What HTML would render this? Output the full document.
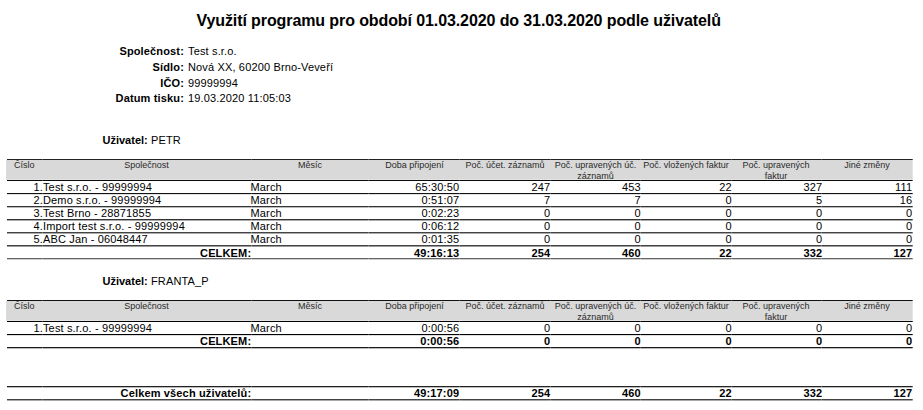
<!DOCTYPE html>
<html><head><meta charset="utf-8"><style>
html,body{margin:0;padding:0;background:#fff;}
body{width:923px;height:410px;overflow:hidden;position:relative;font-family:"Liberation Sans", sans-serif;font-size:11px;color:#000;}
.t{position:absolute;white-space:nowrap;line-height:12px;letter-spacing:0.15px;}
.l{position:absolute;}
.e{position:absolute;left:912px;width:1px;background:rgba(255,255,255,0.3);}
.s{position:absolute;width:1px;background:rgba(255,255,255,0.25);}
</style></head><body>
<div class="t" style="top:15px;font-size:16px;font-weight:bold;letter-spacing:-0.1px;left:196.5px;">Využití programu pro období 01.03.2020 do 31.03.2020 podle uživatelů</div>
<div class="t" style="top:45px;font-weight:bold;right:739px;text-align:right;">Společnost:</div>
<div class="t" style="top:45px;left:188px;">Test s.r.o.</div>
<div class="t" style="top:61px;font-weight:bold;right:739px;text-align:right;">Sídlo:</div>
<div class="t" style="top:61px;left:188px;">Nová XX, 60200 Brno-Veveří</div>
<div class="t" style="top:77px;font-weight:bold;right:739px;text-align:right;">IČO:</div>
<div class="t" style="top:77px;left:188px;">99999994</div>
<div class="t" style="top:92px;font-weight:bold;right:739px;text-align:right;">Datum tisku:</div>
<div class="t" style="top:92px;left:188px;">19.03.2020 11:05:03</div>
<div class="t" style="top:134px;left:102.5px;"><b style="letter-spacing:0">Uživatel:</b> PETR</div>
<div class="l" style="top:160px;left:6px;width:907px;height:19px;background:#d9d9d9"></div>
<div class="l" style="top:179px;left:6px;width:907px;height:1px;background:#e4e4e4"></div>
<div class="e" style="top:160px;height:20px"></div>
<div class="l" style="top:159px;left:7px;width:906px;height:1px;background:#222"></div>
<div class="s" style="top:159px;left:42px;height:1px"></div>
<div class="s" style="top:159px;left:251px;height:1px"></div>
<div class="s" style="top:159px;left:368px;height:1px"></div>
<div class="s" style="top:159px;left:459px;height:1px"></div>
<div class="s" style="top:159px;left:550px;height:1px"></div>
<div class="s" style="top:159px;left:640px;height:1px"></div>
<div class="s" style="top:159px;left:731px;height:1px"></div>
<div class="s" style="top:159px;left:821px;height:1px"></div>
<div class="e" style="top:159px;height:1px"></div>
<div class="l" style="top:180px;left:7px;width:906px;height:1px;background:#0a0a0a"></div>
<div class="s" style="top:180px;left:42px;height:1px"></div>
<div class="s" style="top:180px;left:251px;height:1px"></div>
<div class="s" style="top:180px;left:368px;height:1px"></div>
<div class="s" style="top:180px;left:459px;height:1px"></div>
<div class="s" style="top:180px;left:550px;height:1px"></div>
<div class="s" style="top:180px;left:640px;height:1px"></div>
<div class="s" style="top:180px;left:731px;height:1px"></div>
<div class="s" style="top:180px;left:821px;height:1px"></div>
<div class="e" style="top:180px;height:1px"></div>
<div class="t" style="top:160px;font-size:9px;letter-spacing:0px;left:14px;line-height:10.5px;color:#2a2a2a;">Číslo</div>
<div class="t" style="top:160px;font-size:9px;letter-spacing:0px;left:42px;width:209px;text-align:center;line-height:10.5px;color:#2a2a2a;">Společnost</div>
<div class="t" style="top:160px;font-size:9px;letter-spacing:0px;left:251px;width:118px;text-align:center;line-height:10.5px;color:#2a2a2a;">Měsíc</div>
<div class="t" style="top:160px;font-size:9px;letter-spacing:0px;left:369px;width:91px;text-align:center;line-height:10.5px;color:#2a2a2a;">Doba připojení</div>
<div class="t" style="top:160px;font-size:9px;letter-spacing:0px;left:460px;width:90px;text-align:center;line-height:10.5px;color:#2a2a2a;">Poč. účet. záznamů</div>
<div class="t" style="top:160px;font-size:9px;letter-spacing:0px;left:550px;width:91px;text-align:center;line-height:10.5px;color:#2a2a2a;">Poč. upravených úč.<br>záznamů</div>
<div class="t" style="top:160px;font-size:9px;letter-spacing:0px;left:641px;width:90px;text-align:center;line-height:10.5px;color:#2a2a2a;">Poč. vložených faktur</div>
<div class="t" style="top:160px;font-size:9px;letter-spacing:0px;left:731px;width:90px;text-align:center;line-height:10.5px;color:#2a2a2a;">Poč. upravených<br>faktur</div>
<div class="t" style="top:160px;font-size:9px;letter-spacing:0px;left:821px;width:92px;text-align:center;line-height:10.5px;color:#2a2a2a;">Jiné změny</div>
<div class="t" style="top:181px;left:33.5px;">1.Test s.r.o. - 99999994</div>
<div class="t" style="top:181px;left:250.5px;">March</div>
<div class="t" style="top:181px;right:463.8px;text-align:right;">65:30:50</div>
<div class="t" style="top:181px;right:372.8px;text-align:right;">247</div>
<div class="t" style="top:181px;right:282.3px;text-align:right;">453</div>
<div class="t" style="top:181px;right:191.3px;text-align:right;">22</div>
<div class="t" style="top:181px;right:100.8px;text-align:right;">327</div>
<div class="t" style="top:181px;right:10.8px;text-align:right;">111</div>
<div class="l" style="top:193px;left:7px;width:906px;height:1px;background:#111"></div>
<div class="l" style="top:194px;left:7px;width:906px;height:1px;background:#e0e0e0"></div>
<div class="s" style="top:193px;left:42px;height:2px"></div>
<div class="s" style="top:193px;left:251px;height:2px"></div>
<div class="s" style="top:193px;left:368px;height:2px"></div>
<div class="s" style="top:193px;left:459px;height:2px"></div>
<div class="s" style="top:193px;left:550px;height:2px"></div>
<div class="s" style="top:193px;left:640px;height:2px"></div>
<div class="s" style="top:193px;left:731px;height:2px"></div>
<div class="s" style="top:193px;left:821px;height:2px"></div>
<div class="e" style="top:193px;height:2px"></div>
<div class="t" style="top:194px;left:33.5px;">2.Demo s.r.o. - 99999994</div>
<div class="t" style="top:194px;left:250.5px;">March</div>
<div class="t" style="top:194px;right:463.8px;text-align:right;">0:51:07</div>
<div class="t" style="top:194px;right:372.8px;text-align:right;">7</div>
<div class="t" style="top:194px;right:282.3px;text-align:right;">7</div>
<div class="t" style="top:194px;right:191.3px;text-align:right;">0</div>
<div class="t" style="top:194px;right:100.8px;text-align:right;">5</div>
<div class="t" style="top:194px;right:10.8px;text-align:right;">16</div>
<div class="l" style="top:206px;left:7px;width:906px;height:1px;background:#333"></div>
<div class="l" style="top:207px;left:7px;width:906px;height:1px;background:#bbb"></div>
<div class="s" style="top:206px;left:42px;height:2px"></div>
<div class="s" style="top:206px;left:251px;height:2px"></div>
<div class="s" style="top:206px;left:368px;height:2px"></div>
<div class="s" style="top:206px;left:459px;height:2px"></div>
<div class="s" style="top:206px;left:550px;height:2px"></div>
<div class="s" style="top:206px;left:640px;height:2px"></div>
<div class="s" style="top:206px;left:731px;height:2px"></div>
<div class="s" style="top:206px;left:821px;height:2px"></div>
<div class="e" style="top:206px;height:2px"></div>
<div class="t" style="top:207px;left:33.5px;">3.Test Brno - 28871855</div>
<div class="t" style="top:207px;left:250.5px;">March</div>
<div class="t" style="top:207px;right:463.8px;text-align:right;">0:02:23</div>
<div class="t" style="top:207px;right:372.8px;text-align:right;">0</div>
<div class="t" style="top:207px;right:282.3px;text-align:right;">0</div>
<div class="t" style="top:207px;right:191.3px;text-align:right;">0</div>
<div class="t" style="top:207px;right:100.8px;text-align:right;">0</div>
<div class="t" style="top:207px;right:10.8px;text-align:right;">0</div>
<div class="l" style="top:219px;left:7px;width:906px;height:1px;background:#333"></div>
<div class="l" style="top:220px;left:7px;width:906px;height:1px;background:#aaa"></div>
<div class="s" style="top:219px;left:42px;height:2px"></div>
<div class="s" style="top:219px;left:251px;height:2px"></div>
<div class="s" style="top:219px;left:368px;height:2px"></div>
<div class="s" style="top:219px;left:459px;height:2px"></div>
<div class="s" style="top:219px;left:550px;height:2px"></div>
<div class="s" style="top:219px;left:640px;height:2px"></div>
<div class="s" style="top:219px;left:731px;height:2px"></div>
<div class="s" style="top:219px;left:821px;height:2px"></div>
<div class="e" style="top:219px;height:2px"></div>
<div class="t" style="top:220px;left:33.5px;">4.Import test s.r.o. - 99999994</div>
<div class="t" style="top:220px;left:250.5px;">March</div>
<div class="t" style="top:220px;right:463.8px;text-align:right;">0:06:12</div>
<div class="t" style="top:220px;right:372.8px;text-align:right;">0</div>
<div class="t" style="top:220px;right:282.3px;text-align:right;">0</div>
<div class="t" style="top:220px;right:191.3px;text-align:right;">0</div>
<div class="t" style="top:220px;right:100.8px;text-align:right;">0</div>
<div class="t" style="top:220px;right:10.8px;text-align:right;">0</div>
<div class="l" style="top:232px;left:7px;width:906px;height:1px;background:#444"></div>
<div class="l" style="top:233px;left:7px;width:906px;height:1px;background:#aaa"></div>
<div class="s" style="top:232px;left:42px;height:2px"></div>
<div class="s" style="top:232px;left:251px;height:2px"></div>
<div class="s" style="top:232px;left:368px;height:2px"></div>
<div class="s" style="top:232px;left:459px;height:2px"></div>
<div class="s" style="top:232px;left:550px;height:2px"></div>
<div class="s" style="top:232px;left:640px;height:2px"></div>
<div class="s" style="top:232px;left:731px;height:2px"></div>
<div class="s" style="top:232px;left:821px;height:2px"></div>
<div class="e" style="top:232px;height:2px"></div>
<div class="t" style="top:233px;left:33.5px;">5.ABC Jan - 06048447</div>
<div class="t" style="top:233px;left:250.5px;">March</div>
<div class="t" style="top:233px;right:463.8px;text-align:right;">0:01:35</div>
<div class="t" style="top:233px;right:372.8px;text-align:right;">0</div>
<div class="t" style="top:233px;right:282.3px;text-align:right;">0</div>
<div class="t" style="top:233px;right:191.3px;text-align:right;">0</div>
<div class="t" style="top:233px;right:100.8px;text-align:right;">0</div>
<div class="t" style="top:233px;right:10.8px;text-align:right;">0</div>
<div class="l" style="top:245px;left:7px;width:906px;height:1px;background:#444"></div>
<div class="l" style="top:246px;left:7px;width:906px;height:1px;background:#999"></div>
<div class="s" style="top:245px;left:42px;height:2px"></div>
<div class="s" style="top:245px;left:251px;height:2px"></div>
<div class="s" style="top:245px;left:368px;height:2px"></div>
<div class="s" style="top:245px;left:459px;height:2px"></div>
<div class="s" style="top:245px;left:550px;height:2px"></div>
<div class="s" style="top:245px;left:640px;height:2px"></div>
<div class="s" style="top:245px;left:731px;height:2px"></div>
<div class="s" style="top:245px;left:821px;height:2px"></div>
<div class="e" style="top:245px;height:2px"></div>
<div class="t" style="top:247px;font-weight:bold;right:671.8px;text-align:right;">CELKEM:</div>
<div class="t" style="top:247px;font-weight:bold;right:463.8px;text-align:right;">49:16:13</div>
<div class="t" style="top:247px;font-weight:bold;right:372.8px;text-align:right;">254</div>
<div class="t" style="top:247px;font-weight:bold;right:282.3px;text-align:right;">460</div>
<div class="t" style="top:247px;font-weight:bold;right:191.3px;text-align:right;">22</div>
<div class="t" style="top:247px;font-weight:bold;right:100.8px;text-align:right;">332</div>
<div class="t" style="top:247px;font-weight:bold;right:10.8px;text-align:right;">127</div>
<div class="l" style="top:258px;left:7px;width:906px;height:1px;background:#666"></div>
<div class="l" style="top:259px;left:7px;width:906px;height:1px;background:#ccc"></div>
<div class="s" style="top:258px;left:42px;height:2px"></div>
<div class="s" style="top:258px;left:251px;height:2px"></div>
<div class="s" style="top:258px;left:368px;height:2px"></div>
<div class="s" style="top:258px;left:459px;height:2px"></div>
<div class="s" style="top:258px;left:550px;height:2px"></div>
<div class="s" style="top:258px;left:640px;height:2px"></div>
<div class="s" style="top:258px;left:731px;height:2px"></div>
<div class="s" style="top:258px;left:821px;height:2px"></div>
<div class="e" style="top:258px;height:2px"></div>
<div class="t" style="top:275px;left:102.5px;"><b style="letter-spacing:0">Uživatel:</b> FRANTA_P</div>
<div class="l" style="top:301px;left:6px;width:907px;height:19px;background:#d9d9d9"></div>
<div class="l" style="top:320px;left:6px;width:907px;height:1px;background:#e4e4e4"></div>
<div class="e" style="top:301px;height:20px"></div>
<div class="l" style="top:300px;left:7px;width:906px;height:1px;background:#111"></div>
<div class="s" style="top:300px;left:42px;height:1px"></div>
<div class="s" style="top:300px;left:251px;height:1px"></div>
<div class="s" style="top:300px;left:368px;height:1px"></div>
<div class="s" style="top:300px;left:459px;height:1px"></div>
<div class="s" style="top:300px;left:550px;height:1px"></div>
<div class="s" style="top:300px;left:640px;height:1px"></div>
<div class="s" style="top:300px;left:731px;height:1px"></div>
<div class="s" style="top:300px;left:821px;height:1px"></div>
<div class="e" style="top:300px;height:1px"></div>
<div class="l" style="top:321px;left:7px;width:906px;height:1px;background:#000"></div>
<div class="s" style="top:321px;left:42px;height:1px"></div>
<div class="s" style="top:321px;left:251px;height:1px"></div>
<div class="s" style="top:321px;left:368px;height:1px"></div>
<div class="s" style="top:321px;left:459px;height:1px"></div>
<div class="s" style="top:321px;left:550px;height:1px"></div>
<div class="s" style="top:321px;left:640px;height:1px"></div>
<div class="s" style="top:321px;left:731px;height:1px"></div>
<div class="s" style="top:321px;left:821px;height:1px"></div>
<div class="e" style="top:321px;height:1px"></div>
<div class="t" style="top:301px;font-size:9px;letter-spacing:0px;left:14px;line-height:10.5px;color:#2a2a2a;">Číslo</div>
<div class="t" style="top:301px;font-size:9px;letter-spacing:0px;left:42px;width:209px;text-align:center;line-height:10.5px;color:#2a2a2a;">Společnost</div>
<div class="t" style="top:301px;font-size:9px;letter-spacing:0px;left:251px;width:118px;text-align:center;line-height:10.5px;color:#2a2a2a;">Měsíc</div>
<div class="t" style="top:301px;font-size:9px;letter-spacing:0px;left:369px;width:91px;text-align:center;line-height:10.5px;color:#2a2a2a;">Doba připojení</div>
<div class="t" style="top:301px;font-size:9px;letter-spacing:0px;left:460px;width:90px;text-align:center;line-height:10.5px;color:#2a2a2a;">Poč. účet. záznamů</div>
<div class="t" style="top:301px;font-size:9px;letter-spacing:0px;left:550px;width:91px;text-align:center;line-height:10.5px;color:#2a2a2a;">Poč. upravených úč.<br>záznamů</div>
<div class="t" style="top:301px;font-size:9px;letter-spacing:0px;left:641px;width:90px;text-align:center;line-height:10.5px;color:#2a2a2a;">Poč. vložených faktur</div>
<div class="t" style="top:301px;font-size:9px;letter-spacing:0px;left:731px;width:90px;text-align:center;line-height:10.5px;color:#2a2a2a;">Poč. upravených<br>faktur</div>
<div class="t" style="top:301px;font-size:9px;letter-spacing:0px;left:821px;width:92px;text-align:center;line-height:10.5px;color:#2a2a2a;">Jiné změny</div>
<div class="t" style="top:322px;left:33.5px;">1.Test s.r.o. - 99999994</div>
<div class="t" style="top:322px;left:250.5px;">March</div>
<div class="t" style="top:322px;right:463.8px;text-align:right;">0:00:56</div>
<div class="t" style="top:322px;right:372.8px;text-align:right;">0</div>
<div class="t" style="top:322px;right:282.3px;text-align:right;">0</div>
<div class="t" style="top:322px;right:191.3px;text-align:right;">0</div>
<div class="t" style="top:322px;right:100.8px;text-align:right;">0</div>
<div class="t" style="top:322px;right:10.8px;text-align:right;">0</div>
<div class="l" style="top:334px;left:7px;width:906px;height:1px;background:#000"></div>
<div class="l" style="top:335px;left:7px;width:906px;height:1px;background:#ddd"></div>
<div class="s" style="top:334px;left:42px;height:2px"></div>
<div class="s" style="top:334px;left:251px;height:2px"></div>
<div class="s" style="top:334px;left:368px;height:2px"></div>
<div class="s" style="top:334px;left:459px;height:2px"></div>
<div class="s" style="top:334px;left:550px;height:2px"></div>
<div class="s" style="top:334px;left:640px;height:2px"></div>
<div class="s" style="top:334px;left:731px;height:2px"></div>
<div class="s" style="top:334px;left:821px;height:2px"></div>
<div class="e" style="top:334px;height:2px"></div>
<div class="t" style="top:335px;font-weight:bold;right:671.8px;text-align:right;">CELKEM:</div>
<div class="t" style="top:335px;font-weight:bold;right:463.8px;text-align:right;">0:00:56</div>
<div class="t" style="top:335px;font-weight:bold;right:372.8px;text-align:right;">0</div>
<div class="t" style="top:335px;font-weight:bold;right:282.3px;text-align:right;">0</div>
<div class="t" style="top:335px;font-weight:bold;right:191.3px;text-align:right;">0</div>
<div class="t" style="top:335px;font-weight:bold;right:100.8px;text-align:right;">0</div>
<div class="t" style="top:335px;font-weight:bold;right:10.8px;text-align:right;">0</div>
<div class="l" style="top:347px;left:7px;width:906px;height:1px;background:#1a1a1a"></div>
<div class="l" style="top:348px;left:7px;width:906px;height:1px;background:#bbb"></div>
<div class="s" style="top:347px;left:42px;height:2px"></div>
<div class="s" style="top:347px;left:251px;height:2px"></div>
<div class="s" style="top:347px;left:368px;height:2px"></div>
<div class="s" style="top:347px;left:459px;height:2px"></div>
<div class="s" style="top:347px;left:550px;height:2px"></div>
<div class="s" style="top:347px;left:640px;height:2px"></div>
<div class="s" style="top:347px;left:731px;height:2px"></div>
<div class="s" style="top:347px;left:821px;height:2px"></div>
<div class="e" style="top:347px;height:2px"></div>
<div class="l" style="top:386px;left:7px;width:906px;height:1px;background:#222"></div>
<div class="l" style="top:387px;left:7px;width:906px;height:1px;background:#bbb"></div>
<div class="s" style="top:386px;left:42px;height:2px"></div>
<div class="s" style="top:386px;left:251px;height:2px"></div>
<div class="s" style="top:386px;left:368px;height:2px"></div>
<div class="s" style="top:386px;left:459px;height:2px"></div>
<div class="s" style="top:386px;left:550px;height:2px"></div>
<div class="s" style="top:386px;left:640px;height:2px"></div>
<div class="s" style="top:386px;left:731px;height:2px"></div>
<div class="s" style="top:386px;left:821px;height:2px"></div>
<div class="e" style="top:386px;height:2px"></div>
<div class="t" style="top:387px;font-weight:bold;right:671.8px;text-align:right;">Celkem všech uživatelů:</div>
<div class="t" style="top:387px;font-weight:bold;right:463.8px;text-align:right;">49:17:09</div>
<div class="t" style="top:387px;font-weight:bold;right:372.8px;text-align:right;">254</div>
<div class="t" style="top:387px;font-weight:bold;right:282.3px;text-align:right;">460</div>
<div class="t" style="top:387px;font-weight:bold;right:191.3px;text-align:right;">22</div>
<div class="t" style="top:387px;font-weight:bold;right:100.8px;text-align:right;">332</div>
<div class="t" style="top:387px;font-weight:bold;right:10.8px;text-align:right;">127</div>
<div class="l" style="top:399px;left:7px;width:906px;height:1px;background:#444"></div>
<div class="l" style="top:400px;left:7px;width:906px;height:1px;background:#aaa"></div>
<div class="s" style="top:399px;left:42px;height:2px"></div>
<div class="s" style="top:399px;left:251px;height:2px"></div>
<div class="s" style="top:399px;left:368px;height:2px"></div>
<div class="s" style="top:399px;left:459px;height:2px"></div>
<div class="s" style="top:399px;left:550px;height:2px"></div>
<div class="s" style="top:399px;left:640px;height:2px"></div>
<div class="s" style="top:399px;left:731px;height:2px"></div>
<div class="s" style="top:399px;left:821px;height:2px"></div>
<div class="e" style="top:399px;height:2px"></div>
</body></html>
